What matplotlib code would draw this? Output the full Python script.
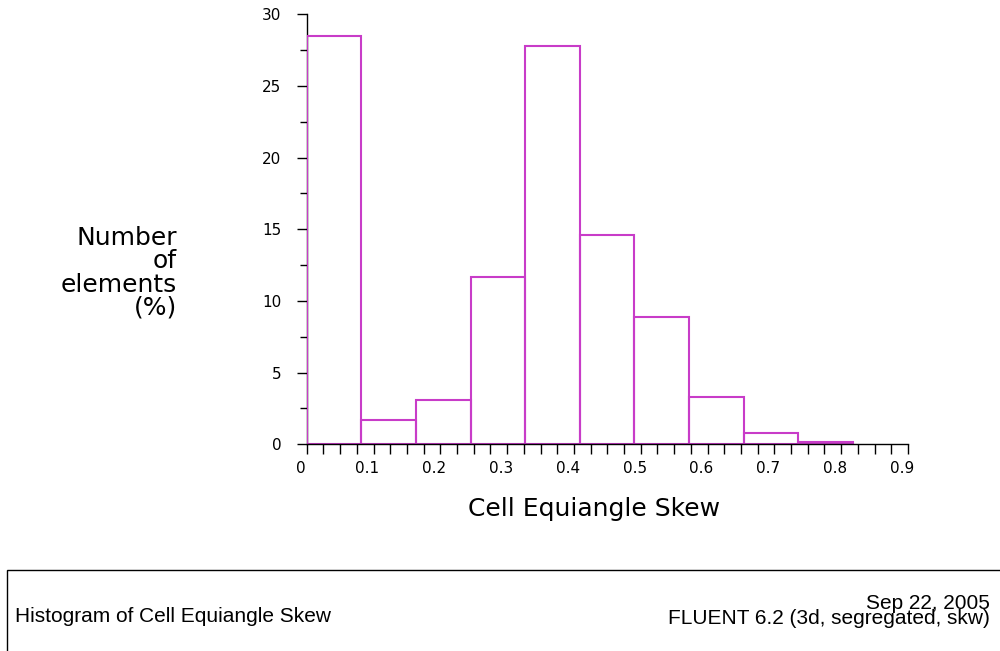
import numpy as np
import matplotlib
matplotlib.use("Agg")
import matplotlib.pyplot as plt
import matplotlib.transforms as mtransforms
from matplotlib.patches import Rectangle
from matplotlib.ticker import MultipleLocator

# ---- data ----
bin_edges = [0.0, 0.0818, 0.1635, 0.2453, 0.3271, 0.4088, 0.4906, 0.5724, 0.6542, 0.7359, 0.8177]
percent = [28.5, 1.7, 3.1, 11.65, 27.8, 14.6, 8.86, 3.28, 0.77, 0.18]
x_ticks = [0, 0.1, 0.2, 0.3, 0.4, 0.5, 0.6, 0.7, 0.8, 0.9]
x_tick_labels = ["0", "0.1", "0.2", "0.3", "0.4", "0.5", "0.6", "0.7", "0.8", "0.9"]
y_ticks = [0, 5, 10, 15, 20, 25, 30]
x_label = "Cell Equiangle Skew"
y_label = "Number\nof\nelements\n(%)"
footer_left = "Histogram of Cell Equiangle Skew"
footer_right = "Sep 22, 2005\nFLUENT 6.2 (3d, segregated, skw)"

W, H = 1000, 651
fig = plt.figure(figsize=(W / 100, H / 100), dpi=100)
fig.patch.set_facecolor("white")

x0, x1 = 306.7, 908.0
y0, y1 = 444.3, 14.3
ax = fig.add_axes([x0 / W, 1 - y0 / H, (x1 - x0) / W, (y0 - y1) / H])
ax.set_facecolor("none")

edges = np.array(bin_edges)
ax.bar(edges[:-1], percent, width=np.diff(edges), align="edge",
       fill=False, edgecolor="#c83cc8", linewidth=1.5, zorder=3)

ax.set_xlim(0, 0.9)
ax.set_ylim(0, 30)
for s in ("top", "right"):
    ax.spines[s].set_visible(False)
for s in ("left", "bottom"):
    ax.spines[s].set_linewidth(1.0)
    ax.spines[s].set_color("black")
ax.spines["bottom"].set_zorder(4)
ax.spines["left"].set_zorder(2)

ax.set_xticks(x_ticks)
ax.set_xticklabels(x_tick_labels)
ax.set_yticks(y_ticks)
ax.xaxis.set_minor_locator(MultipleLocator(0.025))
ax.yaxis.set_minor_locator(MultipleLocator(2.5))
ax.tick_params(axis="both", which="major", direction="out", length=7.2, width=1.0,
               labelsize=11, colors="black")
ax.tick_params(axis="x", which="minor", direction="out", length=7.2, width=1.0)
ax.tick_params(axis="y", which="minor", direction="out", length=5, width=1.0)
ax.tick_params(axis="y", which="major", pad=11)
ax.tick_params(axis="x", which="major", pad=5)

offset = mtransforms.ScaledTranslation(-6 / 100, 0, fig.dpi_scale_trans)
for lab in ax.get_xticklabels():
    lab.set_transform(lab.get_transform() + offset)

fig.text(594.5 / W, 1 - 509 / H, x_label, ha="center", va="center",
         fontsize=18, family="DejaVu Sans")
fig.text(177 / W, 1 - 273 / H, y_label, ha="right", va="center",
         multialignment="right", fontsize=18, family="DejaVu Sans", linespacing=0.95)

# footer box
box = Rectangle((7 / W, -0.1), 1.2, (1 - 570 / H) + 0.1, transform=fig.transFigure,
                fill=False, edgecolor="black", linewidth=1.0, clip_on=False)
fig.add_artist(box)
fig.text(15 / W, 1 - 616 / H, footer_left, ha="left", va="center",
         fontsize=15, family="Liberation Sans")
fig.text(990 / W, 1 - 611 / H, footer_right, ha="right", va="center",
         multialignment="right", fontsize=15, family="Liberation Sans", linespacing=0.75)

fig.savefig("out.png", dpi=100, facecolor="white")
